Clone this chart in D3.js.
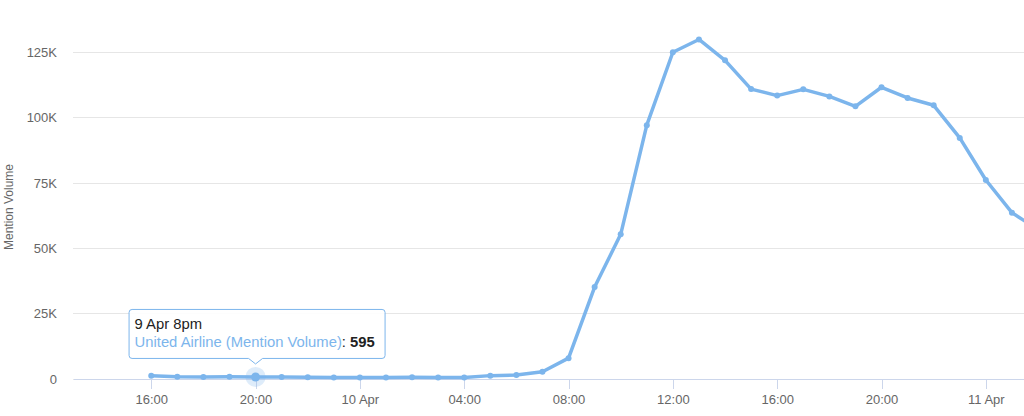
<!DOCTYPE html>
<html>
<head>
<meta charset="utf-8">
<script src="https://cdn.jsdelivr.net/npm/d3@7"></script>
<style>
    body { margin: 0; background: #fff; }
    svg { display: block; font-family: "Liberation Sans", Arial, Helvetica, sans-serif; }
    .axis path, .axis line { shape-rendering: crispEdges; }
</style>
</head>
<body>
<div id="chart"></div>
<script>
// hourly timestamps, 9 Apr 16:00 -> 11 Apr 02:00
const times = [
    "2017-04-09 16:00", "2017-04-09 17:00", "2017-04-09 18:00", "2017-04-09 19:00",
    "2017-04-09 20:00", "2017-04-09 21:00", "2017-04-09 22:00", "2017-04-09 23:00",
    "2017-04-10 00:00", "2017-04-10 01:00", "2017-04-10 02:00", "2017-04-10 03:00",
    "2017-04-10 04:00", "2017-04-10 05:00", "2017-04-10 06:00", "2017-04-10 07:00",
    "2017-04-10 08:00", "2017-04-10 09:00", "2017-04-10 10:00", "2017-04-10 11:00",
    "2017-04-10 12:00", "2017-04-10 13:00", "2017-04-10 14:00", "2017-04-10 15:00",
    "2017-04-10 16:00", "2017-04-10 17:00", "2017-04-10 18:00", "2017-04-10 19:00",
    "2017-04-10 20:00", "2017-04-10 21:00", "2017-04-10 22:00", "2017-04-10 23:00",
    "2017-04-11 00:00", "2017-04-11 01:00", "2017-04-11 02:00"
]
const mentionVolume = [
    1100, 650, 600, 700,
    595, 550, 450, 400,
    350, 380, 450, 350,
    400, 1100, 1300, 2600,
    7800, 35000, 55200, 97000,
    124900, 129800, 121800, 110800,
    108300, 110700, 108000, 104200,
    111500, 107400, 104600, 92100,
    76000, 63500, 57000
]
const yTicks = [0, 25000, 50000, 75000, 100000, 125000]
const xDomain = ["2017-04-09 13:00", "2017-04-11 02:00"]
const seriesName = "United Airline (Mention Volume)"
const hoverTime = "2017-04-09 20:00"

const parseTime = d3.timeParse("%Y-%m-%d %H:%M")

const config = {
    width: 1024,
    height: 416,
    plotLeft: 73,
    plotRight: 1038,
    plotTop: 52,
    plotBottom: 378.5,
    color: "#7cb5ec"
}

const data = times.map((t, i) => ({ time: parseTime(t), value: mentionVolume[i] }))

const svg = d3.select("#chart").append("svg")
    .attr("width", config.width)
    .attr("height", config.height)

const xScale = d3.scaleTime()
    .domain(xDomain.map(parseTime))
    .range([config.plotLeft, config.plotRight])

const yScale = d3.scaleLinear()
    .domain([0, 125000])
    .range([config.plotBottom, config.plotTop])

// y grid + labels
const yAxis = d3.axisLeft(yScale)
    .tickValues(yTicks)
    .tickSize(-(config.plotRight - config.plotLeft))
    .tickPadding(16)
    .tickFormat(d => d === 0 ? "0" : (d / 1000) + "K")

const yAxisGroup = svg.append("g")
    .attr("class", "axis y-axis")
    .attr("transform", `translate(${config.plotLeft},0)`)
    .call(yAxis)
yAxisGroup.select(".domain").remove()
yAxisGroup.selectAll(".tick line")
    .attr("stroke", "#e6e6e6")
yAxisGroup.selectAll(".tick text")
    .attr("fill", "#666")
    .attr("font-size", "13px")
    .attr("dy", "0.36em")

// x axis
const fmtHour = d3.timeFormat("%H:%M")
const fmtDay = d3.timeFormat("%-d %b")
const xAxis = d3.axisBottom(xScale)
    .ticks(d3.timeHour.every(4))
    .tickSize(10)
    .tickSizeOuter(0)
    .tickPadding(6)
    .tickFormat(d => d.getHours() === 0 ? fmtDay(d) : fmtHour(d))

const xAxisGroup = svg.append("g")
    .attr("class", "axis x-axis")
    .attr("transform", `translate(0,${config.plotBottom})`)
    .call(xAxis)
xAxisGroup.select(".domain").attr("stroke", "#ccd6eb")
xAxisGroup.selectAll(".tick line").attr("stroke", "#ccd6eb")
xAxisGroup.selectAll(".tick text")
    .attr("fill", "#666")
    .attr("font-size", "13px")

// y axis title
svg.append("text")
    .attr("transform", `translate(13,207) rotate(-90)`)
    .attr("text-anchor", "middle")
    .attr("fill", "#666")
    .attr("font-size", "12px")
    .text("Mention Volume")

// series
const line = d3.line()
    .x(d => xScale(d.time))
    .y(d => yScale(d.value))

svg.append("path")
    .datum(data)
    .attr("fill", "none")
    .attr("stroke", config.color)
    .attr("stroke-width", 3.5)
    .attr("stroke-linejoin", "round")
    .attr("d", line)

svg.selectAll(".marker")
    .data(data)
    .join("circle")
        .attr("class", "marker")
        .attr("cx", d => xScale(d.time))
        .attr("cy", d => yScale(d.value))
        .attr("r", 3)
        .attr("fill", config.color)

// hovered point + tooltip
const hp = data.find(d => +d.time === +parseTime(hoverTime))
const hx = xScale(hp.time)
const hy = yScale(hp.value)

svg.append("circle")
    .attr("cx", hx).attr("cy", hy).attr("r", 10)
    .attr("fill", config.color).attr("fill-opacity", 0.25)
svg.append("circle")
    .attr("cx", hx).attr("cy", hy).attr("r", 4.5)
    .attr("fill", config.color)

const tipY = hy - 13
const boxBottom = tipY - 6
const boxTop = boxBottom - 49
const boxLeft = hx - 127
const boxRight = boxLeft + 256
const r = 3

const tip = svg.append("g").attr("class", "tooltip")
tip.append("path")
    .attr("d", [
        `M${boxLeft + r + 0.5},${boxTop + 0.5}`,
        `L${boxRight - r + 0.5},${boxTop + 0.5}`,
        `Q${boxRight + 0.5},${boxTop + 0.5} ${boxRight + 0.5},${boxTop + r + 0.5}`,
        `L${boxRight + 0.5},${boxBottom - r + 0.5}`,
        `Q${boxRight + 0.5},${boxBottom + 0.5} ${boxRight - r + 0.5},${boxBottom + 0.5}`,
        `L${hx + 7},${boxBottom + 0.5}`,
        `L${hx},${tipY}`,
        `L${hx - 7},${boxBottom + 0.5}`,
        `L${boxLeft + r + 0.5},${boxBottom + 0.5}`,
        `Q${boxLeft + 0.5},${boxBottom + 0.5} ${boxLeft + 0.5},${boxBottom - r + 0.5}`,
        `L${boxLeft + 0.5},${boxTop + r + 0.5}`,
        `Q${boxLeft + 0.5},${boxTop + 0.5} ${boxLeft + r + 0.5},${boxTop + 0.5}`,
        "Z"
    ].join(" "))
    .attr("fill", "rgba(255,255,255,0.92)")
    .attr("stroke", config.color)
    .attr("stroke-width", 1)

const fmtTip = d3.timeFormat("%-d %b %-I%p")
tip.append("text")
    .attr("x", boxLeft + 6)
    .attr("y", boxTop + 20)
    .attr("font-size", "14.8px")
    .attr("fill", "#222")
    .text(fmtTip(hp.time).replace("PM", "pm").replace("AM", "am"))

const line2 = tip.append("text")
    .attr("x", boxLeft + 6)
    .attr("y", boxTop + 38.5)
    .attr("font-size", "14.8px")
line2.append("tspan").attr("fill", config.color).text(seriesName)
line2.append("tspan").attr("fill", "#222").text(": ")
line2.append("tspan").attr("fill", "#222").attr("font-weight", "bold").text(hp.value)
</script>
</body>
</html>
